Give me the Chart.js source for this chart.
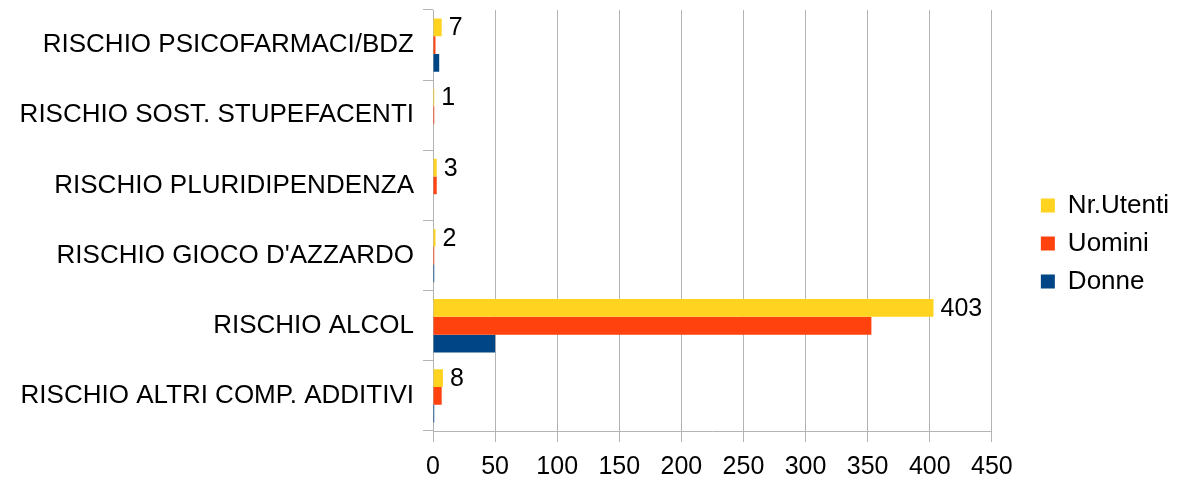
<!DOCTYPE html>
<html>
<head>
<meta charset="utf-8">
<script src="https://cdn.jsdelivr.net/npm/chart.js@4"></script>
<style>
  html, body { margin: 0; padding: 0; background: #fff; }
  #wrap { width: 1179px; height: 477px; }
</style>
</head>
<body>
<div id="wrap"><canvas id="myChart"></canvas></div>
<script>
// Dati
var categorie = ['RISCHIO PSICOFARMACI/BDZ', 'RISCHIO SOST. STUPEFACENTI', 'RISCHIO PLURIDIPENDENZA',
    'RISCHIO GIOCO D\'AZZARDO', 'RISCHIO ALCOL', 'RISCHIO ALTRI COMP. ADDITIVI'];
var nrUtenti = [7, 1, 3, 2, 403, 8];
var uomini = [2, 1, 3, 1, 353, 7];
var donne = [5, 0, 0, 1, 50, 1];
var tickValori = [0, 50, 100, 150, 200, 250, 300, 350, 400, 450];

Chart.defaults.font.family = '"Liberation Sans", Arial, sans-serif';
Chart.defaults.font.size = 25;
Chart.defaults.color = '#000';

// etichette solo sulla serie Nr.Utenti
var etichette = {
    id: 'etichette',
    afterDatasetsDraw: function(chart) {
        var ctx = chart.ctx;
        var meta = chart.getDatasetMeta(0);
        ctx.save();
        ctx.font = '25px "Liberation Sans", Arial, sans-serif';
        ctx.fillStyle = '#000';
        ctx.textAlign = 'left';
        ctx.textBaseline = 'middle';
        meta.data.forEach(function(bar, i) {
            ctx.fillText(String(nrUtenti[i]), bar.x + 7, bar.y + 1);
        });
        ctx.restore();
    }
};

// spazio vuoto tra grafico e legenda
var spaziatore = {
    id: 'spaziatore',
    beforeInit: function(chart) {
        Chart.layouts.addBox(chart, {
            position: 'right',
            weight: 500,
            fullSize: false,
            options: {},
            isHorizontal: function() { return false; },
            update: function(maxWidth, maxHeight) {
                this.width = 37;
                this.height = maxHeight;
            },
            draw: function() {}
        });
    }
};

var ctx = document.getElementById('myChart').getContext('2d');
var myChart = new Chart(ctx, {
    type: 'bar',
    data: {
        labels: categorie,
        datasets: [{
            label: 'Nr.Utenti',
            data: nrUtenti,
            backgroundColor: '#ffd320'
        }, {
            label: 'Uomini',
            data: uomini,
            backgroundColor: '#ff420e'
        }, {
            label: 'Donne',
            data: donne,
            backgroundColor: '#004586'
        }]
    },
    options: {
        indexAxis: 'y',
        responsive: true,
        maintainAspectRatio: false,
        animation: false,
        categoryPercentage: 0.76,
        barPercentage: 1,
        layout: {
            padding: { top: 10, right: 0, bottom: 0, left: 0 }
        },
        scales: {
            x: {
                min: 0,
                max: 450,
                afterBuildTicks: function(axis) {
                    axis.ticks = tickValori.map(function(v) { return { value: v }; });
                },
                afterFit: function(axis) {
                    axis.height = 46;
                    axis.paddingLeft = 0;
                    axis.paddingRight = 0;
                },
                grid: {
                    color: '#b3b3b3',
                    tickLength: 11,
                    lineWidth: 1
                },
                border: { color: '#b3b3b3' },
                ticks: { padding: 10, maxRotation: 0 }
            },
            y: {
                afterFit: function(axis) {
                    axis.width = 433;
                    axis.paddingTop = 0;
                    axis.paddingBottom = 0;
                },
                grid: {
                    drawOnChartArea: false,
                    color: '#b3b3b3',
                    tickLength: 10
                },
                border: { color: '#b3b3b3' },
                ticks: { padding: 9, font: { size: 26 } }
            }
        },
        plugins: {
            legend: {
                position: 'right',
                labels: {
                    boxWidth: 14,
                    boxHeight: 14,
                    padding: 12,
                    color: '#000',
                    font: { size: 26 }
                }
            },
            tooltip: { enabled: false }
        }
    },
    plugins: [etichette, spaziatore]
});
</script>
</body>
</html>
